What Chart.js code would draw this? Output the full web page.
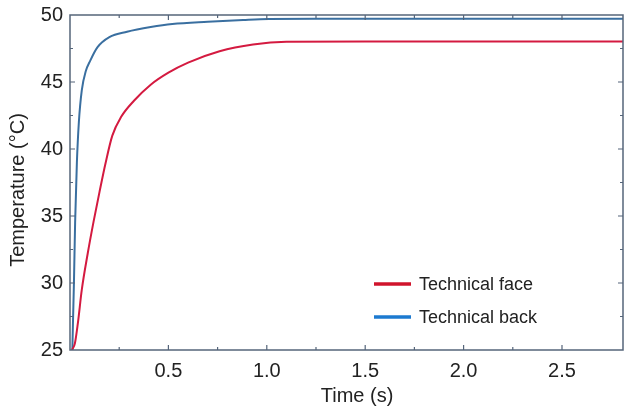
<!DOCTYPE html>
<html>
<head>
<meta charset="utf-8">
<script src="https://cdn.jsdelivr.net/npm/chart.js@4.4.1/dist/chart.umd.min.js"></script>
<style>
    html, body { margin: 0; padding: 0; background: #fff; }
    #wrap { width: 624px; height: 408px; position: relative; }
</style>
</head>
<body>
<div id="wrap"><canvas id="tempChart"></canvas></div>
<script>
// Values
const faceTime = [0.01, 0.025, 0.04, 0.06, 0.09, 0.12, 0.15, 0.18, 0.215, 0.26, 0.325, 0.41, 0.5, 0.6, 0.76, 0.93, 1.1, 1.5, 2.0, 2.5, 2.81];
const faceTemp = [25, 25.5, 27, 29.5, 32.2, 34.6, 36.8, 38.9, 41.0, 42.4, 43.6, 44.8, 45.7, 46.45, 47.3, 47.8, 48.0, 48.02, 48.02, 48.02, 48.02];

const backTime = [0.012, 0.015, 0.02, 0.026, 0.035, 0.045, 0.06, 0.08, 0.103, 0.14, 0.2, 0.29, 0.41, 0.52, 0.7, 0.88, 1.01, 1.3, 1.8, 2.3, 2.81];
const backTemp = [25, 27, 30, 34.5, 39, 42, 44.4, 45.8, 46.6, 47.6, 48.35, 48.75, 49.1, 49.33, 49.5, 49.63, 49.7, 49.72, 49.72, 49.72, 49.72];

const seriesNames = ['Technical face', 'Technical back'];
const xTickLabels = ['0.5', '1.0', '1.5', '2.0', '2.5'];
const yTickLabels = ['25', '30', '35', '40', '45', '50'];

const FONT = '"Liberation Sans", Arial, sans-serif';
const AXIS_COLOR = '#55657a';
const legendColors = ['#d0142c', '#1c7ad0'];

// Turn two arrays into {x, y} points
function toPoints(xs, ys) {
    return xs.map((x, i) => ({x: x, y: ys[i]}));
}

function isMultiple(v, step) {
    return Math.abs(v / step - Math.round(v / step)) < 1e-6;
}

// Keep the plot box where the reference has it
function fixPadding(scale) {
    scale.paddingTop = 0;
    scale.paddingBottom = 0;
    scale.paddingLeft = 0;
    scale.paddingRight = 0;
}

// Plugin that draws the box, inward ticks, axis titles and the legend
const framePlugin = {
    id: 'frame',
    afterDraw(chart) {
        const ctx = chart.ctx;
        const area = chart.chartArea;
        const xs = chart.scales.x;
        const ys = chart.scales.y;

        ctx.save();
        ctx.strokeStyle = AXIS_COLOR;
        ctx.lineWidth = 1.5;
        ctx.strokeRect(area.left, area.top, area.right - area.left, area.bottom - area.top);

        // ticks on all four sides
        ctx.lineWidth = 1.2;
        xs.ticks.forEach(t => {
            if (!isMultiple(t.value, 0.25) || t.value <= 0) return;
            const px = xs.getPixelForValue(t.value);
            const len = isMultiple(t.value, 0.5) ? 5 : 3;
            ctx.beginPath();
            ctx.moveTo(px, area.bottom);
            ctx.lineTo(px, area.bottom - len);
            ctx.moveTo(px, area.top);
            ctx.lineTo(px, area.top + len);
            ctx.stroke();
        });
        ys.ticks.forEach(t => {
            if (t.value <= ys.min || t.value >= ys.max) return;
            const py = ys.getPixelForValue(t.value);
            const len = isMultiple(t.value, 5) ? 5 : 3;
            ctx.beginPath();
            ctx.moveTo(area.left, py);
            ctx.lineTo(area.left + len, py);
            ctx.moveTo(area.right, py);
            ctx.lineTo(area.right - len, py);
            ctx.stroke();
        });

        // axis titles
        ctx.fillStyle = '#222';
        ctx.font = '20px ' + FONT;
        ctx.textAlign = 'center';
        ctx.textBaseline = 'middle';
        ctx.fillText('Time (s)', 357, 396);
        ctx.translate(18, 190);
        ctx.rotate(-Math.PI / 2);
        ctx.fillText('Temperature (\u00B0C)', 0, 0);
        ctx.restore();

        // legend inside the plot
        ctx.save();
        ctx.font = '18px ' + FONT;
        ctx.textAlign = 'left';
        ctx.textBaseline = 'middle';
        const rows = [285, 318];
        seriesNames.forEach((name, i) => {
            ctx.strokeStyle = legendColors[i];
            ctx.lineWidth = 3.5;
            ctx.beginPath();
            ctx.moveTo(374, rows[i] - 1);
            ctx.lineTo(411, rows[i] - 1);
            ctx.stroke();
            ctx.fillStyle = '#222';
            ctx.fillText(name, 419, rows[i]);
        });
        ctx.restore();
    }
};

document.addEventListener('DOMContentLoaded', () => {
    const canvasContext = document.getElementById('tempChart').getContext('2d');

    new Chart(canvasContext, {
        type: 'line',
        data: {
            datasets: [
                {
                    label: seriesNames[0],
                    data: toPoints(faceTime, faceTemp),
                    borderColor: '#d41a40',
                    borderWidth: 2,
                    pointRadius: 0,
                    cubicInterpolationMode: 'monotone',
                    fill: false
                },
                {
                    label: seriesNames[1],
                    data: toPoints(backTime, backTemp),
                    borderColor: '#3a6fa0',
                    borderWidth: 2,
                    pointRadius: 0,
                    cubicInterpolationMode: 'monotone',
                    fill: false
                }
            ]
        },
        options: {
            responsive: true,
            maintainAspectRatio: false,
            animation: false,
            layout: {padding: {left: 0, top: 15, right: 1, bottom: 0}},
            plugins: {
                legend: {display: false},
                tooltip: {enabled: false}
            },
            scales: {
                x: {
                    type: 'linear',
                    min: 0,
                    max: 2.81,
                    grid: {display: false, tickLength: 0},
                    border: {display: false},
                    ticks: {
                        stepSize: 0.25,
                        autoSkip: false,
                        maxRotation: 0,
                        padding: 9,
                        color: '#222',
                        font: {family: FONT, size: 20},
                        callback: v => {
                            const label = Number(v).toFixed(1);
                            return isMultiple(v, 0.5) && xTickLabels.includes(label) ? label : '';
                        }
                    },
                    afterFit: scale => { scale.height = 58; fixPadding(scale); }
                },
                y: {
                    min: 25,
                    max: 50,
                    grid: {display: false, tickLength: 0},
                    border: {display: false},
                    ticks: {
                        stepSize: 2.5,
                        autoSkip: false,
                        padding: 7,
                        color: '#222',
                        font: {family: FONT, size: 20},
                        callback: v => {
                            const label = String(v);
                            return yTickLabels.includes(label) ? label : '';
                        }
                    },
                    afterFit: scale => { scale.width = 70; fixPadding(scale); }
                }
            }
        },
        plugins: [framePlugin]
    });
});
</script>
</body>
</html>
